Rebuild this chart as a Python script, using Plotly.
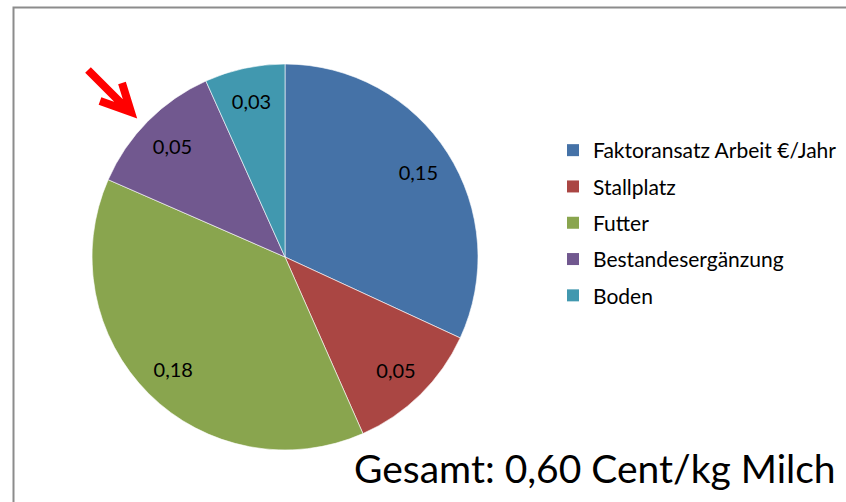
import plotly.graph_objects as go

labels = ["Faktoransatz Arbeit €/Jahr", "Stallplatz", "Futter", "Bestandesergänzung", "Boden"]
values = [0.147, 0.053, 0.176, 0.054, 0.031]
colors = ["#4572A7", "#AA4643", "#89A54E", "#71588F", "#4198AF"]
total_text = "Gesamt: 0,60 Cent/kg Milch"

W, H = 846, 502
FONT = "Lato, 'Noto Sans', sans-serif"

def px(x):
    return x / W

def py(y):
    return 1 - y / H

pie_domain = dict(x=[px(92), px(478)], y=[py(450), py(64)])

fig = go.Figure()
# filled pie
fig.add_trace(go.Pie(
    labels=labels,
    values=values,
    sort=False,
    direction="clockwise",
    rotation=0,
    marker=dict(colors=colors, line=dict(color="white", width=0.6)),
    textinfo="none",
    hoverinfo="label+value",
    showlegend=False,
    domain=pie_domain,
))
# value labels (placed in an outer ring, like the original)
fig.add_trace(go.Pie(
    labels=labels,
    values=values,
    sort=False,
    direction="clockwise",
    rotation=0,
    hole=0.64,
    marker=dict(colors=["rgba(0,0,0,0)"] * len(values), line=dict(width=0)),
    texttemplate="%{value:.2f}",
    textinfo="value",
    textposition="inside",
    insidetextorientation="horizontal",
    textfont=dict(family=FONT, size=20, color="black"),
    hoverinfo="skip",
    showlegend=False,
    domain=pie_domain,
))
# legend entries
for i, (lab, col) in enumerate(zip(labels, colors)):
    fig.add_trace(go.Scatter(
        x=[None], y=[None], mode="markers", name=lab,
        marker=dict(symbol="square", size=12, color=col),
        legendgroup=f"g{i}", showlegend=True,
    ))

# chart frame (left and top edges visible)
frame_path = f"M {px(13.5)} {py(H + 5)} L {px(13.5)} {py(7.5)} L {px(W + 5)} {py(7.5)}"
fig.add_shape(type="path", path=frame_path, xref="paper", yref="paper",
              line=dict(color="#8c8c8c", width=2))

# red arrow
arrow_path = (f"M {px(88)} {py(70)} L {px(129)} {py(111)} "
              f"M {px(100)} {py(101)} L {px(131)} {py(112)} L {px(122)} {py(83)}")
fig.add_shape(type="path", path=arrow_path, xref="paper", yref="paper",
              line=dict(color="#FF0000", width=8))

fig.add_annotation(text=total_text, x=px(838), y=py(468), xref="paper", yref="paper",
                   xanchor="right", yanchor="middle", showarrow=False,
                   font=dict(family=FONT, size=39, color="black"))

fig.update_layout(
    width=W, height=H,
    margin=dict(l=0, r=0, t=0, b=0),
    paper_bgcolor="white",
    plot_bgcolor="white",
    separators=",.",
    font=dict(family=FONT, size=21, color="black"),
    xaxis=dict(visible=False),
    yaxis=dict(visible=False),
    legend=dict(x=px(553), y=py(130), xanchor="left", yanchor="top",
                font=dict(family=FONT, size=21, color="black"),
                tracegroupgap=6, itemclick=False,
                bgcolor="rgba(0,0,0,0)"),
    showlegend=True,
)

fig.write_html("out.html", config={"displayModeBar": False},
               post_script="document.body.style.margin='0';document.body.style.overflow='hidden';")
